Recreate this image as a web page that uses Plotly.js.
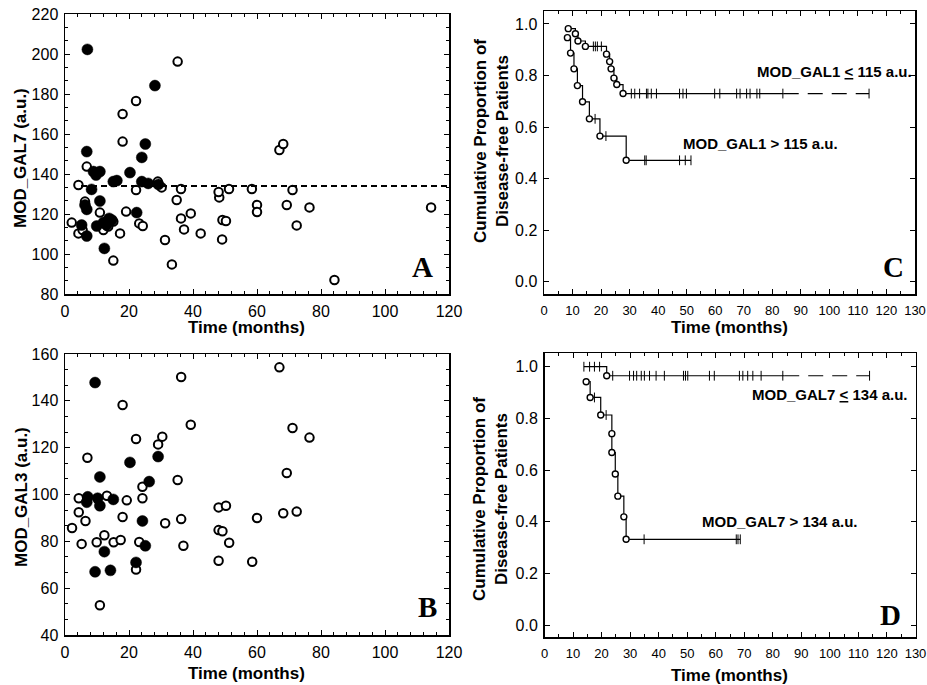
<!DOCTYPE html>
<html>
<head>
<meta charset="utf-8">
<script src="https://cdn.plot.ly/plotly-3.0.1.min.js"></script>
<style>html,body{margin:0;padding:0;background:#fff;}#chart{width:927px;height:685px;}</style>
</head>
<body>
<div id="chart"></div>
<script>
// ---------- Panel A: MOD_GAL7 vs time ----------
const aOpenTime = [35.2, 22.2, 18.0, 18.0, 6.8, 4.2, 22.2, 29.0, 30.2, 6.25, 10.9, 2.1, 4.2, 5.5, 12.0, 13.5, 15.1, 17.2, 19.1, 23.2, 24.3, 15.1, 31.25, 33.4, 34.9, 36.25, 36.25, 37.2, 39.3, 42.4, 48.2, 48.0, 49.2, 50.3, 49.1, 51.25, 58.4, 60.0, 60.0, 67.0, 68.2, 69.3, 71.1, 72.4, 76.4, 84.2, 114.4];
const aOpenValue = [196.2, 176.5, 170.0, 156.2, 143.7, 134.5, 132.0, 136.2, 133.3, 126.2, 120.7, 115.7, 110.3, 112.0, 112.0, 113.7, 116.2, 110.3, 121.2, 115.3, 114.0, 96.7, 107.0, 94.8, 127.0, 132.5, 117.8, 112.3, 120.3, 110.3, 128.3, 131.0, 117.0, 116.5, 107.3, 132.5, 132.5, 124.5, 121.0, 152.0, 155.0, 124.5, 132.0, 114.3, 123.3, 87.0, 123.3];
const aFilledTime = [7.0, 28.1, 6.8, 25.1, 24.0, 8.9, 10.9, 9.7, 20.3, 15.1, 16.2, 24.0, 26.0, 29.2, 8.3, 6.25, 6.8, 10.9, 22.4, 5.2, 6.8, 9.9, 12.0, 13.8, 14.6, 13.0, 12.3];
const aFilledValue = [202.3, 184.2, 151.2, 155.0, 148.3, 141.2, 141.2, 139.5, 140.7, 136.2, 136.7, 136.2, 135.3, 134.8, 132.3, 124.5, 122.3, 126.5, 120.7, 114.5, 109.0, 114.0, 115.7, 117.8, 117.0, 114.5, 102.8];
const aCutoff = 134;
const aCutoffSpan = [5, 120];

// ---------- Panel B: MOD_GAL3 vs time ----------
const bOpenTime = [67.0, 36.3, 18.0, 39.3, 71.1, 76.4, 22.2, 30.4, 29.1, 7.0, 69.3, 35.2, 24.2, 24.2, 4.3, 13.1, 19.3, 4.3, 6.4, 2.2, 18.0, 36.3, 31.3, 48.0, 50.3, 60.0, 68.2, 72.4, 48.0, 49.2, 51.3, 5.2, 9.9, 12.3, 15.2, 17.4, 23.2, 37.0, 48.0, 58.5, 22.2, 10.9];
const bOpenValue = [154.3, 150.2, 138.2, 129.8, 128.4, 124.3, 123.7, 124.7, 121.4, 115.7, 109.2, 106.2, 103.3, 98.4, 98.4, 99.5, 97.5, 92.4, 88.7, 85.7, 90.4, 89.5, 87.7, 94.5, 95.2, 90.0, 92.0, 92.7, 84.8, 84.3, 79.4, 78.9, 79.6, 82.6, 79.6, 80.6, 79.7, 78.1, 71.7, 71.3, 68.0, 52.7];
const bFilledTime = [9.4, 10.9, 20.3, 29.1, 26.3, 7.1, 6.8, 10.2, 10.9, 15.1, 24.2, 25.1, 12.3, 22.2, 9.4, 14.2];
const bFilledValue = [147.8, 107.5, 113.7, 116.2, 105.5, 99.0, 96.7, 98.4, 95.2, 97.9, 88.7, 78.1, 75.6, 71.0, 67.0, 67.6];

// ---------- Panel C: Kaplan-Meier by MOD_GAL1 ----------
const cLowEventTime = [8.5, 11.0, 11.9, 14.5, 21.9, 23.0, 23.5, 24.5, 25.5, 27.7];
const cLowEventSurv = [0.982, 0.962, 0.934, 0.913, 0.883, 0.854, 0.826, 0.790, 0.765, 0.730];
const cLowCensor = [17.3, 18.0, 18.7, 20.1, 30.6, 31.8, 33.5, 35.9, 36.4, 37.6, 39.4, 47.5, 48.7, 49.9, 59.8, 61.6, 67.5, 68.7, 71.0, 72.2, 74.6, 75.6, 83.7, 113.9];
const cHighEventTime = [8.2, 9.3, 10.5, 11.7, 13.5, 15.9, 19.6, 28.8];
const cHighEventSurv = [0.947, 0.887, 0.826, 0.761, 0.698, 0.632, 0.565, 0.471];
const cHighCensor = [17.9, 21.7, 35.3, 35.8, 47.5, 49.5, 51.5];

// ---------- Panel D: Kaplan-Meier by MOD_GAL7 ----------
const dLowEventTime = [21.8];
const dLowEventSurv = [0.965];
const dLowStart = {time: 13.8, surv: 1.0};
const dLowCensor = [13.8, 15.8, 17.5, 19.3, 23.9, 29.8, 31.2, 32.3, 33.9, 35.0, 36.8, 39.1, 42.0, 48.7, 49.4, 50.2, 57.8, 59.5, 68.3, 69.5, 71.2, 73.0, 75.9, 83.5, 113.9];
const dHighEventTime = [14.6, 16.0, 19.7, 23.6, 23.6, 24.8, 25.7, 27.8, 28.6];
const dHighEventSurv = [0.942, 0.881, 0.813, 0.741, 0.668, 0.585, 0.499, 0.419, 0.332];
const dHighCensor = [17.5, 21.6, 34.9, 67.2, 67.8, 68.6];

const xTickLabels = ['0','20','40','60','80','100','120'];
const kmTickLabels = ['0','10','20','30','40','50','60','70','80','90','100','110','120','130'];

// ---------- helpers ----------
const W = 927, H = 685;
const px = v => v / W;
const py = v => 1 - v / H;

function survAt(times, survs, t, startSurv) {
  let s = startSurv;
  for (let i = 0; i < times.length; i++) if (times[i] <= t) s = survs[i];
  return s;
}

const openMarker = {symbol: 'circle', size: 8.5, color: 'white', line: {color: 'black', width: 2}};
const filledMarker = {symbol: 'circle', size: 11, color: 'black', line: {color: 'black', width: 0.5}};
const kmCircle = {symbol: 'circle', size: 6, color: 'white', line: {color: 'black', width: 1.4}};
const kmCensor = {symbol: 'line-ns-open', size: 7, color: 'black', line: {color: 'black', width: 1}};
const dashFrom = 84;

const traces = [];
traces.push({x: aOpenTime, y: aOpenValue, type: 'scatter', mode: 'markers', marker: openMarker, xaxis: 'x', yaxis: 'y', hoverinfo: 'skip'});
traces.push({x: aFilledTime, y: aFilledValue, type: 'scatter', mode: 'markers', marker: filledMarker, xaxis: 'x', yaxis: 'y', hoverinfo: 'skip'});
traces.push({x: aCutoffSpan, y: [aCutoff, aCutoff], type: 'scatter', mode: 'lines', line: {color: 'black', width: 2, dash: '6px,4px'}, xaxis: 'x', yaxis: 'y', hoverinfo: 'skip'});
traces.push({x: bOpenTime, y: bOpenValue, type: 'scatter', mode: 'markers', marker: openMarker, xaxis: 'x3', yaxis: 'y3', hoverinfo: 'skip'});
traces.push({x: bFilledTime, y: bFilledValue, type: 'scatter', mode: 'markers', marker: filledMarker, xaxis: 'x3', yaxis: 'y3', hoverinfo: 'skip'});

function kmTraces(evT, evS, cens, xa, ya, startPt, splitDash) {
  const out = [];
  const endT = Math.max(...cens);
  const lastS = evS[evS.length - 1];
  let lx = [], ly = [];
  if (startPt) { lx.push(startPt.time); ly.push(startPt.surv); }
  lx = lx.concat(evT); ly = ly.concat(evS);
  const solidEnd = splitDash ? Math.min(dashFrom, endT) : endT;
  lx.push(solidEnd); ly.push(lastS);
  out.push({x: lx, y: ly, type: 'scatter', mode: 'lines', line: {shape: 'hv', color: 'black', width: 1.2}, xaxis: xa, yaxis: ya, hoverinfo: 'skip'});
  if (splitDash && endT > dashFrom) {
    out.push({x: [dashFrom, endT], y: [lastS, lastS], type: 'scatter', mode: 'lines', line: {color: 'black', width: 1.2, dash: '15px,9px'}, xaxis: xa, yaxis: ya, hoverinfo: 'skip'});
  }
  const s0 = startPt ? startPt.surv : 1;
  out.push({x: cens, y: cens.map(t => survAt(evT, evS, t, s0)), type: 'scatter', mode: 'markers', marker: kmCensor, xaxis: xa, yaxis: ya, hoverinfo: 'skip'});
  out.push({x: evT, y: evS, type: 'scatter', mode: 'markers', marker: kmCircle, xaxis: xa, yaxis: ya, hoverinfo: 'skip'});
  return out;
}
traces.push(...kmTraces(cLowEventTime, cLowEventSurv, cLowCensor, 'x2', 'y2', null, true));
traces.push(...kmTraces(cHighEventTime, cHighEventSurv, cHighCensor, 'x2', 'y2', null, false));
traces.push(...kmTraces(dLowEventTime, dLowEventSurv, dLowCensor, 'x4', 'y4', dLowStart, true));
traces.push(...kmTraces(dHighEventTime, dHighEventSurv, dHighCensor, 'x4', 'y4', null, false));

const tickFont = {family: '"Liberation Sans", Arial, sans-serif', size: 16, color: 'black'};
const kmXTickFont = {family: '"Liberation Sans", Arial, sans-serif', size: 13, color: 'black'};
function axis(extra) {
  return Object.assign({
    showline: true, linecolor: 'black', linewidth: 1.5, mirror: 'allticks',
    ticks: 'inside', ticklen: 5, tickwidth: 1, tickcolor: 'black',
    showgrid: false, zeroline: false, fixedrange: true, tickfont: tickFont,
    ticklabelstandoff: 2, ticklabeloverflow: 'allow', tickangle: 0
  }, extra);
}
const kmTickVals = kmTickLabels.map(Number);
const abTickVals = xTickLabels.map(Number);

const layout = {
  width: W, height: H,
  margin: {l: 0, r: 0, t: 0, b: 0},
  paper_bgcolor: 'white', plot_bgcolor: 'white',
  showlegend: false,
  font: {family: '"Liberation Sans", Arial, sans-serif', color: 'black'},
  xaxis: axis({domain: [px(65), px(449)], range: [0, 120], tickmode: 'array', tickvals: abTickVals, ticktext: xTickLabels, minor: {dtick: 4, ticks: 'inside', ticklen: 3, tickcolor: 'black'}, anchor: 'y'}),
  yaxis: axis({domain: [py(294), py(14)], range: [80, 220], dtick: 20, minor: {dtick: 20/3, ticks: 'inside', ticklen: 3, tickcolor: 'black'}, anchor: 'x'}),
  xaxis3: axis({domain: [px(65), px(449)], range: [0, 120], tickmode: 'array', tickvals: abTickVals, ticktext: xTickLabels, minor: {dtick: 4, ticks: 'inside', ticklen: 3, tickcolor: 'black'}, anchor: 'y3'}),
  yaxis3: axis({domain: [py(635), py(354)], range: [40, 160], dtick: 20, minor: {dtick: 20/3, ticks: 'inside', ticklen: 3, tickcolor: 'black'}, anchor: 'x3'}),
  xaxis2: axis({domain: [px(544), px(915)], range: [0, 130], tickmode: 'array', tickvals: kmTickVals, ticktext: kmTickLabels, tickfont: kmXTickFont, ticklabelstandoff: 4, minor: {dtick: 5, ticks: 'inside', ticklen: 3, tickcolor: 'black'}, anchor: 'y2'}),
  yaxis2: axis({domain: [py(294), py(11)], range: [-0.0477, 1.0504], tick0: 0, dtick: 0.2, tickformat: '.1f', anchor: 'x2'}),
  xaxis4: axis({domain: [px(544.5), px(915.5)], range: [0, 130], tickmode: 'array', tickvals: kmTickVals, ticktext: kmTickLabels, tickfont: kmXTickFont, ticklabelstandoff: 4, minor: {dtick: 5, ticks: 'inside', ticklen: 3, tickcolor: 'black'}, anchor: 'y4'}),
  yaxis4: axis({domain: [py(637), py(353)], range: [-0.046, 1.053], tick0: 0, dtick: 0.2, tickformat: '.1f', anchor: 'x4'}),
  annotations: []
};

const titleFont = {family: '"Liberation Sans", Arial, sans-serif', size: 17, color: 'black'};
const labelFont = {family: '"Liberation Sans", Arial, sans-serif', size: 15, color: 'black'};
const letterFont = {family: '"Liberation Serif", "Times New Roman", serif', size: 29, color: 'black'};
function ann(text, x, y, font, angle) {
  layout.annotations.push({text: text, x: px(x), y: py(y), xref: 'paper', yref: 'paper', showarrow: false, xanchor: 'center', yanchor: 'middle', font: font, textangle: angle || 0});
}
ann('<b>Time (months)</b>', 247, 327, titleFont);
ann('<b>Time (months)</b>', 247, 673, titleFont);
ann('<b>Time (months)</b>', 729, 327, titleFont);
ann('<b>Time (months)</b>', 729, 675, titleFont);
ann('<b>MOD_GAL7 (a.u.)</b>', 21, 158, titleFont, -90);
ann('<b>MOD_GAL3 (a.u.)</b>', 21, 497, titleFont, -90);
ann('<b>Cumulative Proportion of<br>Disease-free Patients</b>', 491, 141, titleFont, -90);
ann('<b>Cumulative Proportion of<br>Disease-free Patients</b>', 491, 499, titleFont, -90);
ann('<b>MOD_GAL1 <u>&lt;</u> 115 a.u.</b>', 834, 72, labelFont);
ann('<b>MOD_GAL1 &gt; 115 a.u.</b>', 760, 143, labelFont);
ann('<b>MOD_GAL7 <u>&lt;</u> 134 a.u.</b>', 829, 394, labelFont);
ann('<b>MOD_GAL7 &gt; 134 a.u.</b>', 779, 521, labelFont);
ann('<b>A</b>', 422, 267, letterFont);
ann('<b>B</b>', 427, 607, letterFont);
ann('<b>C</b>', 893, 267, letterFont);
ann('<b>D</b>', 890, 615, letterFont);

Plotly.newPlot('chart', traces, layout, {staticPlot: true, displayModeBar: false});
</script>
</body>
</html>
